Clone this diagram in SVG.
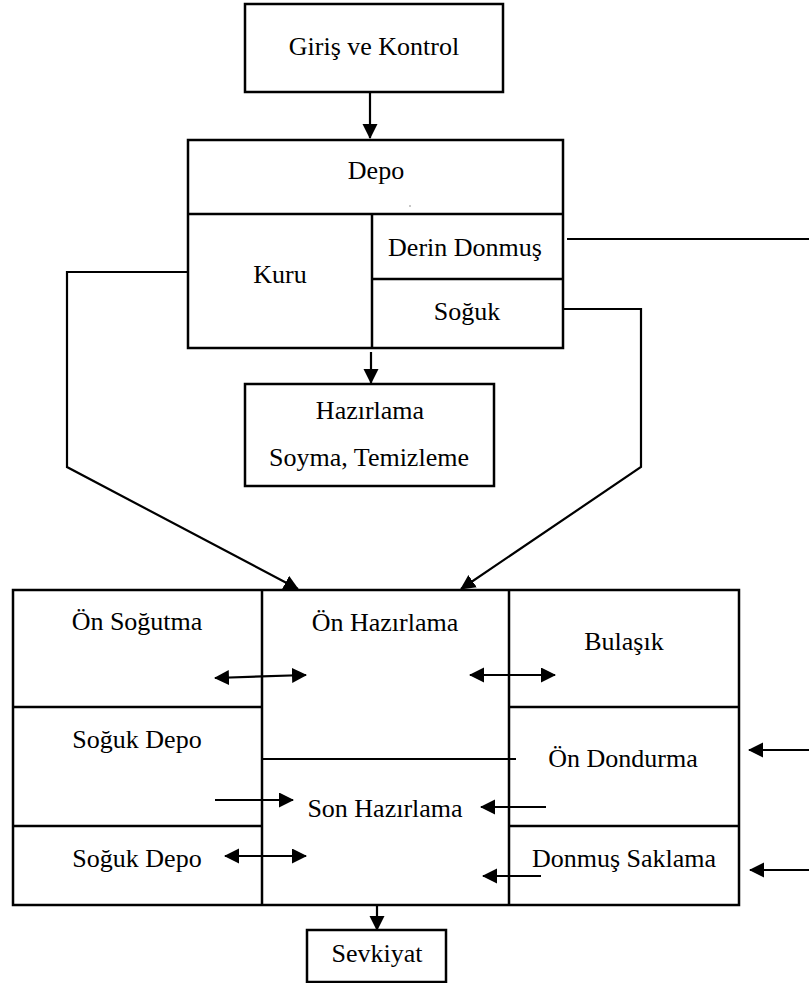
<svg xmlns="http://www.w3.org/2000/svg" width="809" height="983" viewBox="0 0 809 983">
<style>
.box{fill:none;stroke:#000;stroke-width:2.5}
.ln{fill:none;stroke:#000;stroke-width:2.2}
.t{font-family:'Liberation Serif','Times New Roman',serif;font-size:26px;fill:#000;text-anchor:middle}
</style>
<defs>
<marker id="ah" markerUnits="userSpaceOnUse" markerWidth="15" markerHeight="16" refX="14" refY="7.5" orient="auto-start-reverse" viewBox="0 0 15 16">
<path d="M0,0 L15,7.5 L0,15 z" fill="#000"/>
</marker>
</defs>
<rect width="809" height="983" fill="#fff"/>

<g id="giris">
<rect class="box" x="245" y="4" width="258" height="88"/>
<text class="t" x="374" y="55">Giriş ve Kontrol</text>
</g>

<g id="depo">
<rect class="box" x="188" y="140" width="375" height="208"/>
<line class="box" x1="188" y1="214" x2="563" y2="214"/>
<line class="box" x1="372" y1="214" x2="372" y2="348"/>
<line class="box" x1="372" y1="279" x2="563" y2="279"/>
<text class="t" x="376" y="179">Depo</text>
<circle cx="410" cy="206" r="0.7" fill="#666"/>
<text class="t" x="280" y="283">Kuru</text>
<text class="t" x="465" y="256">Derin Donmuş</text>
<text class="t" x="467" y="320">Soğuk</text>
</g>

<g id="hazirlama">
<rect class="box" x="245" y="384" width="249" height="102"/>
<text class="t" x="370" y="419">Hazırlama</text>
<text class="t" x="369" y="466">Soyma, Temizleme</text>
</g>

<g id="uretim">
<rect class="box" x="13" y="590" width="726" height="315"/>
<line class="box" x1="262" y1="590" x2="262" y2="905"/>
<line class="box" x1="509" y1="590" x2="509" y2="905"/>
<line class="box" x1="13" y1="707" x2="262" y2="707"/>
<line class="box" x1="13" y1="826" x2="262" y2="826"/>
<line class="box" x1="509" y1="707" x2="739" y2="707"/>
<line class="box" x1="509" y1="826" x2="739" y2="826"/>
<line class="ln" x1="261" y1="759" x2="516" y2="759"/>
<text class="t" x="137" y="630">Ön Soğutma</text>
<text class="t" x="137" y="748">Soğuk Depo</text>
<text class="t" x="137" y="867">Soğuk Depo</text>
<text class="t" x="385" y="631">Ön Hazırlama</text>
<text class="t" x="385" y="817">Son Hazırlama</text>
<text class="t" x="624" y="650">Bulaşık</text>
<text class="t" x="623" y="767">Ön Dondurma</text>
<text class="t" x="624" y="867">Donmuş Saklama</text>
</g>

<g id="sevkiyat">
<rect class="box" x="307" y="930" width="139" height="52"/>
<text class="t" x="377" y="962">Sevkiyat</text>
</g>

<g id="connectors">
<line class="ln" x1="370" y1="92" x2="370" y2="138" marker-end="url(#ah)"/>
<line class="ln" x1="371" y1="352" x2="371" y2="383" marker-end="url(#ah)"/>
<polyline class="ln" points="188,272 67,272 67,467 298,589" marker-end="url(#ah)"/>
<polyline class="ln" points="564,309 641,309 641,467 461,589" marker-end="url(#ah)"/>
<line class="ln" x1="567" y1="239" x2="809" y2="239"/>
<line class="ln" x1="215" y1="678" x2="306" y2="675" marker-start="url(#ah)" marker-end="url(#ah)"/>
<line class="ln" x1="470" y1="675" x2="555" y2="675" marker-start="url(#ah)" marker-end="url(#ah)"/>
<line class="ln" x1="215" y1="800" x2="293" y2="800" marker-end="url(#ah)"/>
<line class="ln" x1="546" y1="807" x2="481" y2="807" marker-end="url(#ah)"/>
<line class="ln" x1="225" y1="856" x2="306" y2="856" marker-start="url(#ah)" marker-end="url(#ah)"/>
<line class="ln" x1="541" y1="876" x2="483" y2="876" marker-end="url(#ah)"/>
<line class="ln" x1="809" y1="750" x2="749" y2="750" marker-end="url(#ah)"/>
<line class="ln" x1="809" y1="870" x2="750" y2="870" marker-end="url(#ah)"/>
<line class="ln" x1="377" y1="905" x2="377" y2="930" marker-end="url(#ah)"/>
</g>
</svg>
